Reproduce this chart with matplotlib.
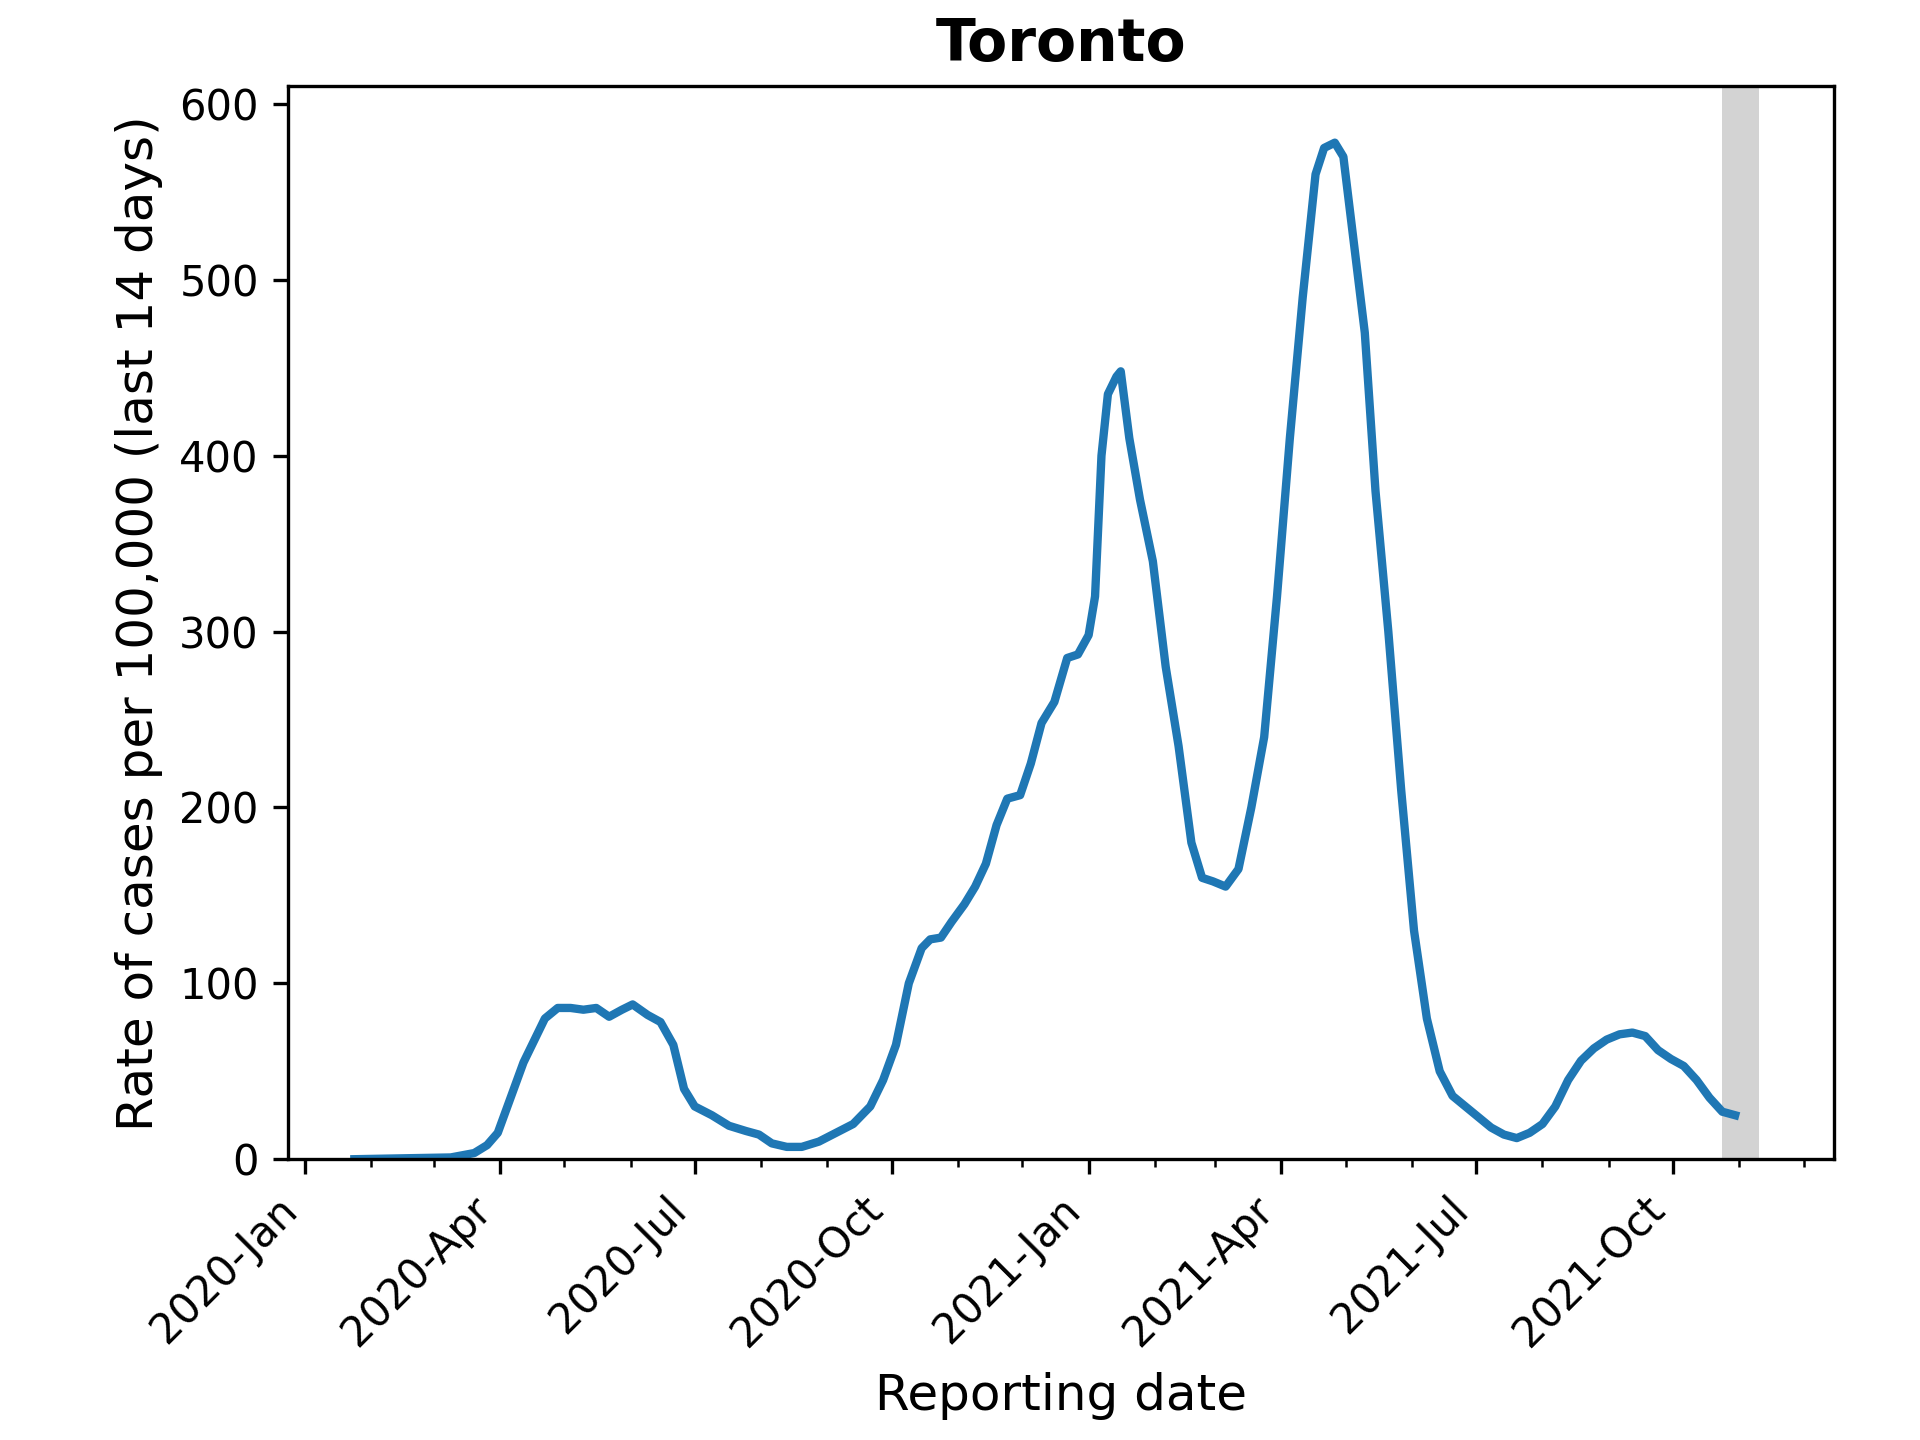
import matplotlib
matplotlib.use("Agg")
import matplotlib.pyplot as plt
import matplotlib.dates as mdates
import numpy as np
import datetime as dt

start = dt.date(2020, 1, 1)
days = [23, 68, 79, 85, 90, 96, 102, 108, 112, 118, 124, 130, 136, 142, 148, 153, 160, 166, 172, 177,
        182, 190, 198, 206, 212, 218, 225, 232, 240, 248, 256, 264, 270, 276, 282, 288, 292, 297, 302,
        308, 313, 318, 323, 328, 334, 339, 344, 350, 356, 361, 366, 369, 372, 375, 379, 381, 385, 390,
        396, 402, 408, 414, 419, 424, 430, 436, 442, 448, 454, 460, 466, 472, 476, 481, 485, 490, 495,
        500, 506, 512, 518, 524, 530, 536, 542, 548, 554, 560, 566, 572, 578, 584, 590, 596, 602, 608,
        614, 620, 626, 632, 638, 644, 650, 656, 662, 668]
rates = [0, 1, 3.5, 8, 15, 35, 55, 70, 80, 86, 86, 85, 86, 81, 85, 88, 82, 78, 65, 40,
         30, 25, 19, 16, 14, 9, 7, 7, 10, 15, 20, 30, 45, 65, 100, 120, 125, 126, 135,
         145, 155, 168, 190, 205, 207, 225, 248, 260, 285, 287, 298, 320, 400, 435, 445, 448, 410, 375,
         340, 280, 235, 180, 160, 158, 155, 165, 200, 240, 320, 410, 490, 560, 575, 578, 570, 520, 470,
         380, 300, 210, 130, 80, 50, 36, 30, 24, 18, 14, 12, 15, 20, 30, 45, 56, 63, 68,
         71, 72, 70, 62, 57, 53, 45, 35, 27, 25]
dates = [start + dt.timedelta(days=d) for d in days]
shade_start = dt.date(2021, 10, 24)
shade_end = dt.date(2021, 11, 10)

fig, ax = plt.subplots(figsize=(6.4, 4.8), dpi=300)
ax.axvspan(shade_start, shade_end, color="lightgray", lw=0)
ax.plot(dates, rates, color="#1f77b4", lw=2)
ax.set_xlim(dt.date(2019, 12, 24), dt.date(2021, 12, 15))
ax.set_ylim(0, 610)
ax.xaxis.set_major_locator(mdates.MonthLocator(bymonth=[1, 4, 7, 10]))
ax.xaxis.set_minor_locator(mdates.MonthLocator())
ax.xaxis.set_major_formatter(mdates.DateFormatter("%Y-%b"))
plt.setp(ax.get_xticklabels(), rotation=45, ha="right")
ax.set_title("Toronto", fontweight="bold", fontsize=14)
ax.set_xlabel("Reporting date", fontsize=12)
ax.set_ylabel("Rate of cases per 100,000 (last 14 days)", fontsize=12)
fig.subplots_adjust(left=0.15, right=0.955, top=0.94, bottom=0.195)
fig.savefig("out.png", dpi=300)
